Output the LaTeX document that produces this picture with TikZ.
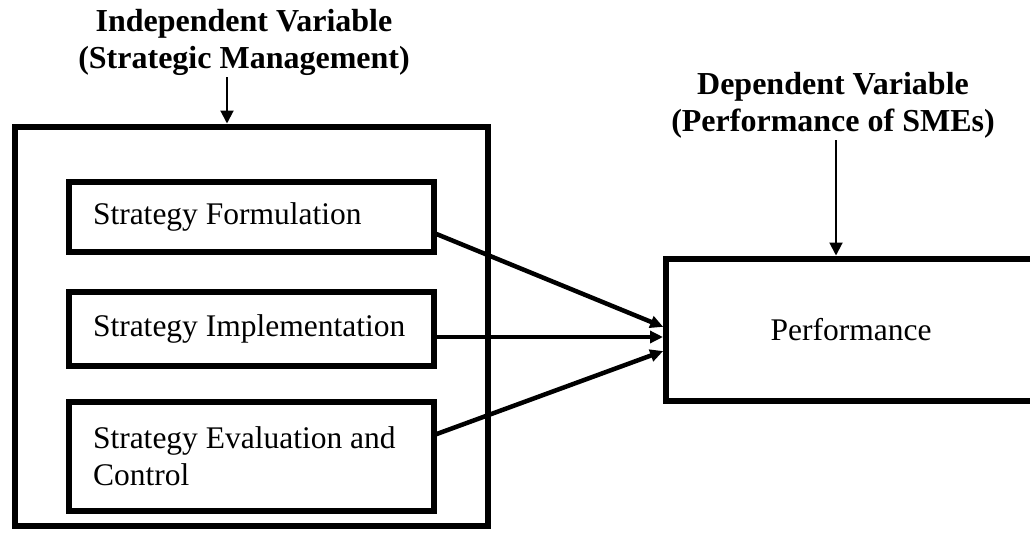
\documentclass[tikz,border=0pt]{standalone}
\usepackage{fontspec}
\setmainfont{Liberation Serif}
\usetikzlibrary{arrows.meta}
\newcommand{\boxfont}{\fontsize{31.5}{37}\selectfont}
\tikzset{
    box/.style={
        draw,
        line width=6.5pt,
        inner sep=0pt,
        outer sep=0pt
    },
    item/.style={
        box,
        minimum width=365pt,
        text width=317pt,
        align=flush left,
        font=\boxfont
    },
    heading/.style={
        align=center,
        inner sep=2pt,
        font=\fontsize{32}{37}\selectfont\bfseries
    },
    link/.style={
        line width=4.5pt,
        -{Triangle[length=13pt,width=12pt]},
        shorten >=3pt
    },
    pointer/.style={
        line width=2pt,
        -{Triangle[length=13pt,width=13pt]},
        shorten >=3.5pt
    }
}

\begin{document}
\begin{tikzpicture}[x=1pt,y=-1pt]
    \useasboundingbox (0,0) rectangle (1030,533);
    \clip (0,0) rectangle (1030,533);
    \node[box,minimum width=473pt,minimum height=399pt] (outer) at (251.5,326.5) {};
    \node[item,minimum height=70pt] (form) at (251.5,217) {Strategy Formulation};
    \node[item,minimum height=74pt] (impl) at (251.5,329) {Strategy Implementation};
    \node[item,minimum height=109pt] (eval) at (251.5,456.5) {Strategy Evaluation and\\Control};
    \node[box,minimum width=370pt,minimum height=142pt,font=\boxfont] (perf) at (851,330) {Performance};
    \node[heading] (indep) at (244,42) {Independent Variable\\(Strategic Management)};
    \node[heading] (dep) at (833,105) {Dependent Variable\\(Performance of SMEs)};
    \draw[pointer] ([xshift=-17pt]indep.south) -- ([xshift=-24.5pt]outer.north);
    \draw[pointer] ([xshift=3pt]dep.south) -- ([xshift=-15pt]perf.north);
    \draw[link] ([yshift=-16pt]form.east) -- ([yshift=2pt]perf.west);
    \draw[link] ([yshift=-8pt]impl.east) -- ([yshift=-7pt]perf.west);
    \draw[link] ([yshift=21.5pt]eval.east) -- ([yshift=-20pt]perf.west);
\end{tikzpicture}
\end{document}
